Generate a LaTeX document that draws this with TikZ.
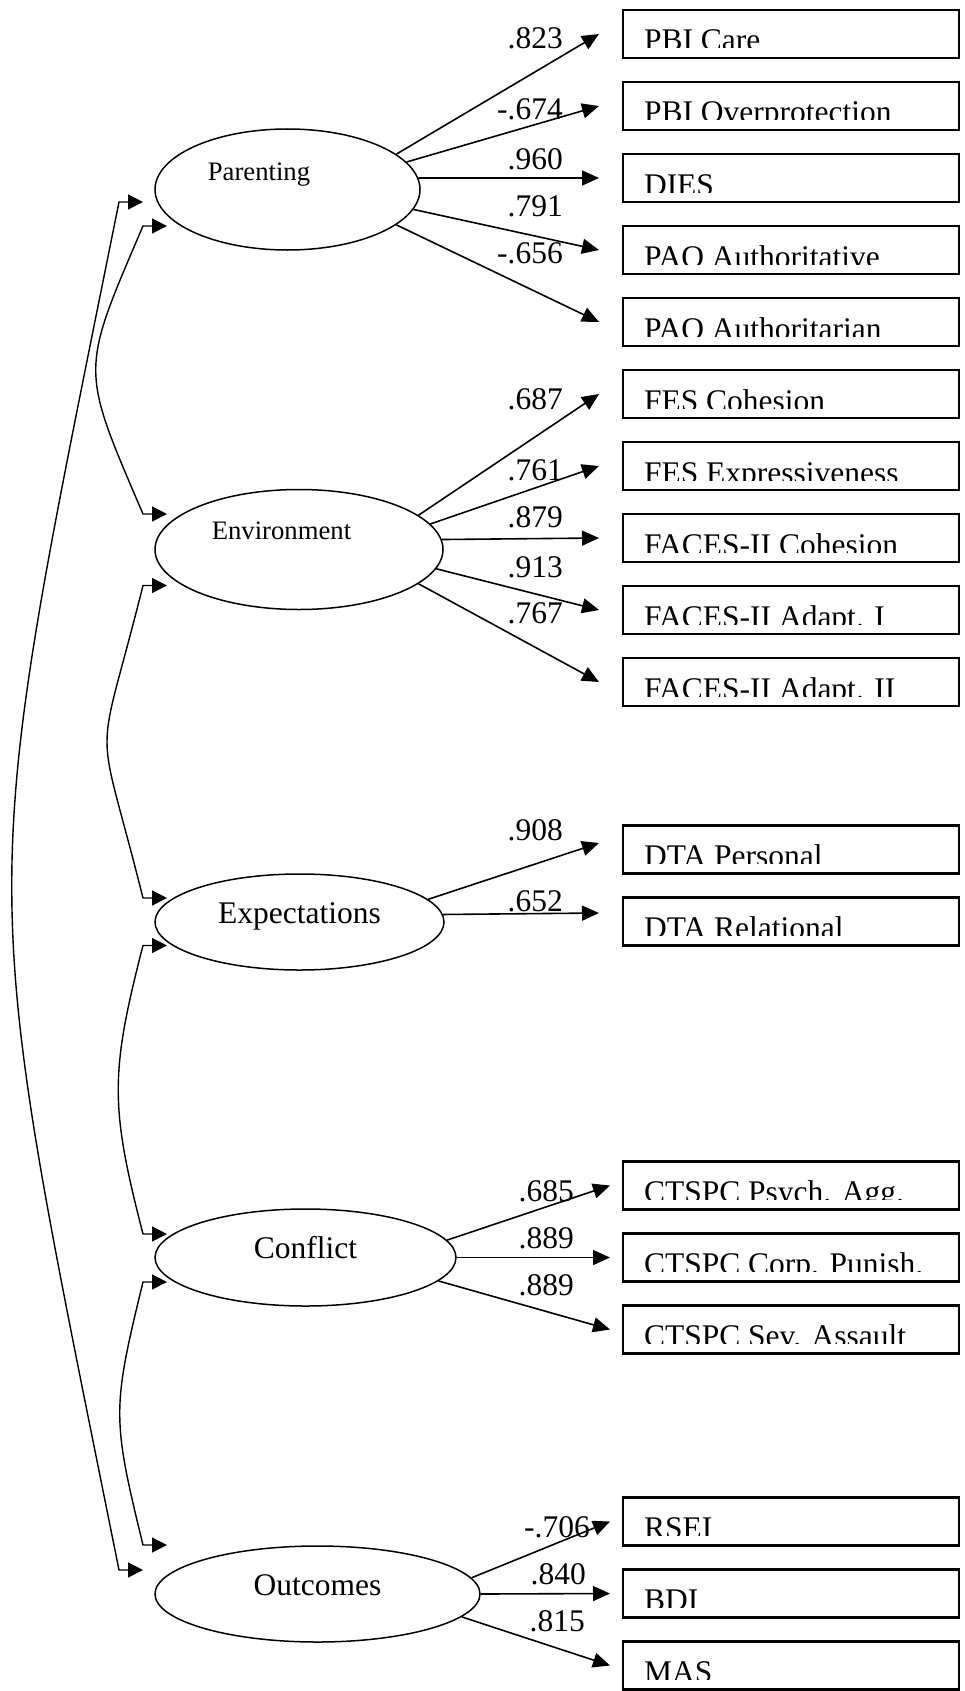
\documentclass[tikz,border=0pt]{standalone}
\usepackage{fontspec}
\setmainfont{Liberation Serif}
\usepackage{tikz}
\usetikzlibrary{positioning}
\usetikzlibrary{shapes.geometric}
\usetikzlibrary{arrows.meta}
\newcommand{\bigfont}{\fontsize{31.5}{36}\selectfont}
\newcommand{\midfont}{\fontsize{26.7}{30}\selectfont}
\tikzstyle{latent}=[ellipse,draw,line width=1.5pt,inner sep=0pt,font=\bigfont,
                    text height=0.6em,text depth=0.38em]
\tikzstyle{ld}=[font=\bigfont,inner sep=0pt,anchor=base east]
\tikzstyle{loadarr}=[-{Triangle[length=17pt,width=15pt]},line width=1.6pt]
\tikzstyle{cov}=[{Triangle[length=15pt,width=15pt]}-{Triangle[length=15pt,width=15pt]},line width=1.4pt]
\tikzstyle{lname}=[font=\midfont,inner sep=0pt,text height=0.6em,text depth=0.38em]
\tikzset{obs/.style={draw,line width=2.3pt,minimum width=336pt,minimum height=48pt,
    inner sep=0pt,outer sep=0pt,
    path picture={
      \clip ([yshift=10pt]path picture bounding box.south west) rectangle (path picture bounding box.north east);
      \node[draw=none,minimum width=0pt,minimum height=0pt,anchor=base west,inner sep=0pt,font=\bigfont]
        at ([xshift=21pt,yshift=7pt]path picture bounding box.south west) {#1};
    }}}

\begin{document}
\begin{tikzpicture}[x=1pt,y=-1pt]
\useasboundingbox (0,0) rectangle (964,1691);

% Latent factors
\node[latent,minimum width=265pt,minimum height=121pt,
      label={[lname,xshift=-28.5pt,yshift=10.4pt]center:Parenting}] (par) at (287.5,189.5) {};
\node[latent,minimum width=288pt,minimum height=120pt,
      label={[lname,xshift=-17.5pt,yshift=11.4pt]center:Environment}] (env) at (299,549.5) {};
\node[latent,minimum width=289pt,minimum height=96pt] (expc) at (299.5,922) {Expectations};
\node[latent,minimum width=301pt,minimum height=97pt] (conf) at (305.5,1257.5) {Conflict};
\node[latent,minimum width=325pt,minimum height=96pt] (outc) at (317.5,1594) {Outcomes};

% Indicators
\node[obs={PBI Care}] (pbicare) at (791,34) {};
\node[obs={PBI Overprotection},below=24pt of pbicare] (pbiover) {};
\node[obs={DIES},below=24pt of pbiover] (dies) {};
\node[obs={PAO Authoritative},below=24pt of dies] (paoauth) {};
\node[obs={PAO Authoritarian},below=24pt of paoauth] (paoautn) {};
\node[obs={FES Cohesion},below=24pt of paoautn] (fescoh) {};
\node[obs={FES Expressiveness},below=24pt of fescoh] (fesexp) {};
\node[obs={FACES-II Cohesion},below=24pt of fesexp] (facescoh) {};
\node[obs={FACES-II Adapt. I},below=24pt of facescoh] (facesa) {};
\node[obs={FACES-II Adapt. II},below=24pt of facesa] (facesb) {};

\node[obs={DTA Personal}] (dtaper) at (791,849.5) {};
\node[obs={DTA Relational},below=24pt of dtaper] (dtarel) {};

\node[obs={CTSPC Psych. Agg.}] (ctsagg) at (791,1185.5) {};
\node[obs={CTSPC Corp. Punish.},below=24pt of ctsagg] (ctscorp) {};
\node[obs={CTSPC Sev. Assault},below=24pt of ctscorp] (ctssev) {};

\node[obs={RSEI}] (rsei) at (791,1521.5) {};
\node[obs={BDI},below=24pt of rsei] (bdi) {};
\node[obs={MAS},below=24pt of bdi] (mas) {};

% Loadings
\draw[loadarr] (par.18.5) -- ([xshift=-24pt]pbicare.west);
\draw[loadarr] (par.13) -- ([xshift=-24pt]pbiover.west);
\draw[loadarr] (par.5.3) -- ([xshift=-24pt]dies.west);
\draw[loadarr] (par.-9.8) -- ([xshift=-24pt]paoauth.west);
\draw[loadarr] (par.-18.5) -- ([xshift=-24pt]paoautn.west);

\draw[loadarr] (env.16.4) -- ([xshift=-24pt]fescoh.west);
\draw[loadarr] (env.11.7) -- ([xshift=-24pt]fesexp.west);
\draw[loadarr] (env.4.75) -- ([xshift=-24pt]facescoh.west);
\draw[loadarr] (env.-8.6) -- ([xshift=-24pt]facesa.west);
\draw[loadarr] (env.-16.9) -- ([xshift=-24pt]facesb.west);

\draw[loadarr] (expc.10.5) -- ([shift={(-24pt,6.5pt)}]dtaper.west);
\draw[loadarr] (expc.3.4) -- ([shift={(-24pt,8.5pt)}]dtarel.west);

\draw[loadarr] (conf.7.1) -- ([xshift=-13pt]ctsagg.west);
\draw[loadarr] (conf.east) -- ([xshift=-13pt]ctscorp.west);
\draw[loadarr] (conf.-10.6) -- ([xshift=-13pt]ctssev.west);

\draw[loadarr] (outc.6.4) -- ([xshift=-13pt]rsei.west);
\draw[loadarr] (outc.east) -- ([xshift=-13pt]bdi.west);
\draw[loadarr] (outc.-9.3) -- ([xshift=-13pt]mas.west);

% Loading values
\node[ld] at (563,48.5) {.823};
\node[ld] at (563,120) {-.674};
\node[ld] at (563,169) {.960};
\node[ld] at (563,216.5) {.791};
\node[ld] at (563,263.5) {-.656};

\node[ld] at (563,409) {.687};
\node[ld] at (563,480) {.761};
\node[ld] at (563,527) {.879};
\node[ld] at (563,577.5) {.913};
\node[ld] at (563,623.5) {.767};

\node[ld] at (563,840) {.908};
\node[ld] at (563,911) {.652};

\node[ld] at (574,1201) {.685};
\node[ld] at (574,1248) {.889};
\node[ld] at (574,1295.5) {.889};

\node[ld] at (590,1537) {-.706};
\node[ld] at (586,1584.3) {.840};
\node[ld] at (585,1631.6) {.815};

% Covariance ends
\coordinate (parA) at (143,202);
\coordinate (parB) at (167,226);
\coordinate (envA) at (167,514);
\coordinate (envB) at (167,585.5);
\coordinate (expA) at (167,898);
\coordinate (expB) at (167,945.5);
\coordinate (conA) at (167,1234);
\coordinate (conB) at (167,1282);
\coordinate (outA) at (167,1545);
\coordinate (outB) at (143,1570);

% Covariances
\draw[cov] (parA) -- ++(-24,0) .. controls +(-143,711) and +(-143,-711) .. ([xshift=-24pt]outB) -- (outB);
\draw[cov] (parB) -- ++(-24,0) .. controls +(-63,147) and +(-63,-147) .. ([xshift=-24pt]envA) -- (envA);
\draw[cov] (envB) -- ++(-24,0) .. controls +(-48,192) and +(-48,-192) .. ([xshift=-24pt]expA) -- (expA);
\draw[cov] (expB) -- ++(-24,0) .. controls +(-33,128) and +(-33,-128) .. ([xshift=-24pt]conA) -- (conA);
\draw[cov] (conB) -- ++(-24,0) .. controls +(-31,127) and +(-31,-127) .. ([xshift=-24pt]outA) -- (outA);

\end{tikzpicture}
\end{document}
